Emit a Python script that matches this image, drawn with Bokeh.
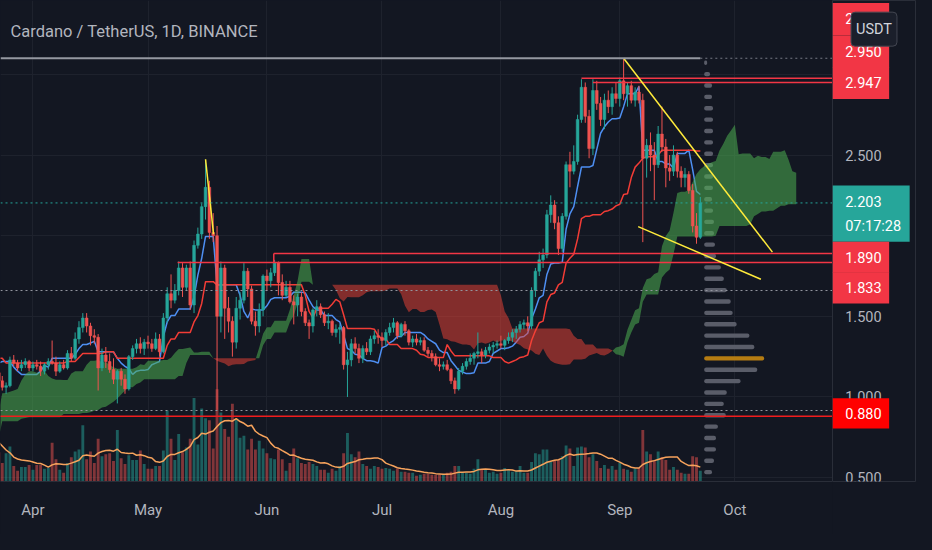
import numpy as np
import pandas as pd
from bokeh.plotting import figure
from bokeh.layouts import row
from bokeh.models import (Range1d, FixedTicker, MonthsTicker, DatetimeTickFormatter, Label,
                          ColumnDataSource, GlobalInlineStyleSheet)
from bokeh.core.properties import value
from bokeh.embed import file_html
from bokeh.resources import INLINE

# ---------------------------------------------------------------- data
TITLE = "Cardano / TetherUS, 1D, BINANCE"
FIRST_DAY = "2021-03-23"        # first daily candle shown
PRE_FIRST_DAY = "2021-01-04"    # earlier highs/lows, only used to seed the Ichimoku windows

OPEN = [
    1.15, 1.10, 1.06, 1.07, 1.23, 1.21, 1.18, 1.20, 1.22,
    1.18, 1.20, 1.19, 1.16, 1.20, 1.22, 1.21, 1.16, 1.20, 1.18, 1.27, 1.24, 1.36, 1.43, 1.49, 1.44, 1.38, 1.37, 1.18, 1.26,
    1.22, 1.17, 1.11, 1.16, 1.11, 1.05, 1.25, 1.30, 1.33, 1.30,
    1.34, 1.33, 1.30, 1.36, 1.28, 1.49, 1.64, 1.60, 1.66, 1.80, 1.68, 1.80, 1.57, 1.94, 2.01, 2.18, 2.30, 2.02, 2.00, 1.50,
    1.80, 1.55, 1.47, 1.34, 1.55, 1.60, 1.78, 1.67, 1.47, 1.44, 1.54,
    1.75, 1.72, 1.77, 1.83, 1.71, 1.63, 1.68, 1.59, 1.57, 1.62, 1.53, 1.46, 1.44, 1.54, 1.56, 1.51, 1.46, 1.47, 1.40, 1.42,
    1.43, 1.20, 1.23, 1.33, 1.30, 1.24, 1.30, 1.28, 1.36, 1.38,
    1.37, 1.35, 1.40, 1.43, 1.46, 1.38, 1.45, 1.41, 1.34, 1.36, 1.34, 1.35, 1.29, 1.27, 1.25, 1.20, 1.19, 1.20, 1.17, 1.10,
    1.05, 1.16, 1.19, 1.22, 1.24, 1.27, 1.28, 1.26, 1.29, 1.31, 1.32,
    1.33, 1.32, 1.35, 1.37, 1.40, 1.42, 1.45, 1.46, 1.44, 1.66, 1.78, 1.85, 1.88, 2.13, 2.19, 2.08, 1.92, 2.12, 2.44, 2.40,
    2.46, 2.72, 2.92, 2.74, 2.54, 2.90, 2.82, 2.72, 2.84, 2.80, 2.88,
    2.85, 2.96, 2.88, 2.93, 2.84, 2.89, 2.84, 2.48, 2.56, 2.50, 2.44, 2.63, 2.55, 2.42, 2.40, 2.50, 2.40, 2.36, 2.38, 2.28,
    2.06, 1.99,
]
HIGH = [
    1.17, 1.13, 1.09, 1.25, 1.26, 1.23, 1.23, 1.24, 1.23,
    1.22, 1.23, 1.22, 1.21, 1.24, 1.35, 1.25, 1.22, 1.23, 1.29, 1.31, 1.40, 1.47, 1.52, 1.52, 1.46, 1.42, 1.39, 1.30, 1.31,
    1.27, 1.24, 1.17, 1.18, 1.14, 1.26, 1.32, 1.36, 1.37, 1.36,
    1.38, 1.36, 1.40, 1.39, 1.52, 1.68, 1.76, 1.70, 1.84, 1.83, 1.82, 1.84, 1.97, 2.05, 2.20, 2.47, 2.34, 2.14, 2.06, 1.84,
    1.82, 1.62, 1.50, 1.62, 1.65, 1.83, 1.80, 1.69, 1.53, 1.58, 1.76,
    1.79, 1.80, 1.85, 1.84, 1.76, 1.72, 1.72, 1.63, 1.64, 1.65, 1.55, 1.48, 1.55, 1.60, 1.58, 1.53, 1.52, 1.48, 1.45, 1.45,
    1.44, 1.28, 1.36, 1.37, 1.33, 1.32, 1.34, 1.38, 1.41, 1.42,
    1.40, 1.42, 1.46, 1.49, 1.47, 1.46, 1.47, 1.42, 1.38, 1.39, 1.37, 1.37, 1.31, 1.29, 1.27, 1.24, 1.22, 1.23, 1.18, 1.12,
    1.18, 1.21, 1.24, 1.27, 1.28, 1.40, 1.30, 1.31, 1.33, 1.34, 1.35,
    1.38, 1.36, 1.40, 1.42, 1.44, 1.47, 1.48, 1.50, 1.68, 1.80, 1.90, 1.92, 2.16, 2.25, 2.22, 2.12, 2.14, 2.46, 2.52, 2.56,
    2.75, 2.97, 2.95, 2.78, 2.97, 2.96, 2.86, 2.88, 2.90, 2.92, 2.95,
    2.98, 3.10, 2.95, 2.96, 2.92, 2.93, 2.88, 2.60, 2.64, 2.58, 2.68, 2.80, 2.60, 2.50, 2.56, 2.52, 2.43, 2.42, 2.40, 2.32,
    2.14, 2.24,
]
LOW = [
    1.08, 1.04, 1.02, 1.06, 1.19, 1.16, 1.16, 1.18, 1.16,
    1.16, 1.17, 1.13, 1.14, 1.17, 1.20, 1.13, 1.15, 1.17, 1.17, 1.22, 1.23, 1.33, 1.40, 1.40, 1.32, 1.33, 1.04, 1.16, 1.18,
    1.15, 1.08, 0.96, 1.07, 1.02, 1.04, 1.23, 1.27, 1.27, 1.26,
    1.30, 1.28, 1.29, 1.25, 1.27, 1.46, 1.55, 1.58, 1.63, 1.62, 1.66, 1.54, 1.52, 1.92, 1.98, 2.10, 1.98, 1.96, 0.92, 1.40,
    1.36, 1.40, 1.25, 1.30, 1.48, 1.58, 1.62, 1.45, 1.38, 1.40, 1.50,
    1.66, 1.68, 1.75, 1.63, 1.60, 1.62, 1.58, 1.45, 1.50, 1.50, 1.44, 1.36, 1.40, 1.50, 1.49, 1.44, 1.42, 1.38, 1.37, 1.33,
    1.17, 1.00, 1.19, 1.27, 1.21, 1.21, 1.26, 1.26, 1.33, 1.33,
    1.31, 1.32, 1.38, 1.40, 1.36, 1.37, 1.38, 1.32, 1.31, 1.32, 1.32, 1.28, 1.25, 1.22, 1.19, 1.16, 1.17, 1.16, 1.08, 1.02,
    1.04, 1.14, 1.17, 1.20, 1.20, 1.24, 1.21, 1.24, 1.27, 1.27, 1.30,
    1.30, 1.29, 1.33, 1.34, 1.36, 1.40, 1.42, 1.41, 1.42, 1.62, 1.75, 1.80, 1.86, 2.08, 2.04, 1.88, 1.90, 2.10, 2.30, 2.38,
    2.44, 2.70, 2.70, 2.48, 2.50, 2.78, 2.68, 2.66, 2.76, 2.75, 2.82,
    2.80, 2.84, 2.80, 2.82, 2.80, 2.82, 1.96, 2.36, 2.40, 2.22, 2.42, 2.52, 2.30, 2.34, 2.37, 2.36, 2.30, 2.30, 2.26, 2.02,
    1.95, 1.98,
]
CLOSE = [
    1.10, 1.06, 1.07, 1.23, 1.21, 1.18, 1.20, 1.22, 1.18,
    1.20, 1.19, 1.16, 1.20, 1.22, 1.21, 1.16, 1.20, 1.18, 1.27, 1.24, 1.36, 1.43, 1.49, 1.44, 1.38, 1.37, 1.18, 1.26, 1.22,
    1.17, 1.11, 1.16, 1.11, 1.05, 1.25, 1.30, 1.33, 1.30, 1.34,
    1.33, 1.30, 1.36, 1.28, 1.49, 1.64, 1.60, 1.66, 1.80, 1.68, 1.80, 1.57, 1.94, 2.01, 2.18, 2.30, 2.02, 2.00, 1.50, 1.80,
    1.55, 1.47, 1.34, 1.55, 1.60, 1.78, 1.67, 1.47, 1.44, 1.54, 1.75,
    1.72, 1.77, 1.83, 1.71, 1.63, 1.68, 1.59, 1.57, 1.62, 1.53, 1.46, 1.44, 1.54, 1.56, 1.51, 1.46, 1.47, 1.40, 1.42, 1.43,
    1.20, 1.23, 1.33, 1.30, 1.24, 1.30, 1.28, 1.36, 1.38, 1.37,
    1.35, 1.40, 1.43, 1.46, 1.38, 1.45, 1.41, 1.34, 1.36, 1.34, 1.35, 1.29, 1.27, 1.25, 1.20, 1.19, 1.20, 1.17, 1.10, 1.05,
    1.16, 1.19, 1.22, 1.24, 1.27, 1.28, 1.26, 1.29, 1.31, 1.32, 1.33,
    1.32, 1.35, 1.37, 1.40, 1.42, 1.45, 1.46, 1.44, 1.66, 1.78, 1.85, 1.88, 2.13, 2.19, 2.08, 1.92, 2.12, 2.44, 2.40, 2.46,
    2.72, 2.92, 2.74, 2.54, 2.90, 2.82, 2.72, 2.84, 2.80, 2.88, 2.85,
    2.96, 2.88, 2.93, 2.84, 2.89, 2.84, 2.48, 2.56, 2.50, 2.44, 2.63, 2.55, 2.42, 2.40, 2.50, 2.40, 2.36, 2.38, 2.28, 2.06,
    1.99, 2.203,
]
VOLUME = [
    30, 19, 29, 36, 16, 11, 15, 15, 17,
    12, 17, 17, 13, 14, 40, 23, 12, 9, 19, 25, 31, 33, 58, 23, 31, 19, 44, 26, 28, 29, 21, 53, 24, 18, 27, 22, 22, 32, 18,
    13, 13, 16, 16, 32, 73, 44, 22, 49, 30, 35, 44, 86, 38, 75, 65, 63, 34, 95, 71, 54, 46, 80, 64, 45, 47, 33, 44, 33, 42, 34,
    29, 24, 23, 33, 23, 11, 19, 34, 24, 19, 18, 20, 18, 16, 12, 12, 9, 13, 11, 16, 29, 50, 28, 25, 31, 18, 16, 13, 16, 15,
    13, 14, 13, 11, 13, 10, 10, 9, 9, 6, 7, 8, 8, 7, 7, 7, 7, 9, 10, 16, 16, 9, 9, 8, 13, 23, 12, 12, 9, 10, 8,
    9, 14, 12, 10, 11, 16, 9, 9, 20, 29, 28, 33, 33, 20, 21, 22, 26, 37, 34, 16, 35, 36, 35, 25, 28, 21, 14, 17, 13, 16, 12,
    19, 13, 12, 10, 13, 14, 53, 31, 28, 22, 31, 25, 22, 12, 15, 12, 9, 8, 8, 26, 25, 11,
]
PRE_VOLUME = [60, 70, 65, 60, 30, 25, 20, 22, 24]   # Mar 14 - Mar 22, seeds the volume MA
VOL_MA_LEN = 10
PRE_HIGH = [
    0.24, 0.27, 0.33, 0.34, 0.33, 0.32, 0.33, 0.30, 0.30, 0.32, 0.36, 0.36, 0.38, 0.38, 0.38, 0.38, 0.36, 0.35, 0.34, 0.35,
    0.39, 0.39, 0.37, 0.37, 0.36, 0.36, 0.37, 0.39,
    0.42, 0.43, 0.46, 0.51, 0.52, 0.58, 0.64, 0.72, 0.72, 0.74, 0.75, 0.80, 0.95, 0.92, 0.87, 0.90, 0.91, 0.92, 0.96, 1.02,
    1.08, 1.08, 1.00, 1.07, 1.14, 1.25, 1.48, 1.39,
    1.40, 1.39, 1.26, 1.22, 1.16, 1.16, 1.20, 1.20, 1.17, 1.17, 1.14, 1.11, 1.11, 1.11, 1.09, 1.10, 1.36, 1.42, 1.35, 1.30,
    1.22, 1.23,
]
PRE_LOW = [
    0.19, 0.22, 0.25, 0.29, 0.27, 0.29, 0.28, 0.22, 0.25, 0.26, 0.30, 0.31, 0.34, 0.34, 0.34, 0.34, 0.31, 0.28, 0.27, 0.32,
    0.34, 0.34, 0.33, 0.31, 0.32, 0.32, 0.33, 0.35,
    0.36, 0.39, 0.40, 0.43, 0.46, 0.50, 0.55, 0.60, 0.64, 0.64, 0.68, 0.70, 0.76, 0.80, 0.78, 0.82, 0.83, 0.85, 0.87, 0.90,
    0.96, 0.84, 0.74, 0.90, 1.00, 1.05, 1.24, 1.17,
    1.28, 1.20, 1.15, 1.05, 1.04, 1.07, 1.08, 1.06, 1.08, 1.10, 1.05, 1.02, 1.01, 1.04, 1.00, 1.02, 1.04, 1.24, 1.22, 1.19,
    1.13, 1.10,
]
# visible-range volume profile, rows from top price to bottom price
VP_VOLUME = [3, 6, 8, 8, 9, 9, 9, 9, 9, 9, 9, 9, 8, 9, 10, 10, 11, 12, 17, 20,
             23, 27, 29, 33, 46, 51, 61, 54, 37, 23, 20, 22, 14, 12, 12, 10, 8, 6]
VP_TOP_PRICE, VP_BOTTOM_PRICE = 3.072, 0.464
VP_ANCHOR = "2021-09-23"

PRICE_TICKS = [0.5, 1.0, 1.5, 2.0, 2.5, 3.0]
ATH = 3.10
VA_HIGH, VA_LOW = 1.66, 0.916
COUNTDOWN = "07:17:28"
CURRENCY = "USDT"

# drawings
HLINE_PRICE = [2.976, 2.950, 1.890, 1.833, 0.880]
HLINE_FROM = ["2021-08-22", "2021-08-25", "2021-06-02 19:00", "2021-05-08 17:00", "2021-03-20"]
TREND_X0 = ["2021-05-16", "2021-09-02", "2021-09-05 19:00"]
TREND_Y0 = [2.474, 3.10, 2.056]
TREND_X1 = ["2021-05-18 02:00", "2021-10-10 19:00", "2021-10-07 19:00"]
TREND_Y1 = [2.01, 1.898, 1.73]

LABEL_TEXT = ["2.976", "2.950", "2.947", "1.890", "1.833", "0.880"]
LABEL_PRICE = [2.976, 2.950, 2.947, 1.890, 1.833, 0.880]

# ---------------------------------------------------------------- style / layout
BG = "#131722"
GRID = "#1e222d"
TXT = "#b2b5be"
UP, DOWN = "#26a69a", "#ef5350"
LBL_RED, LBL_RED2, LBL_TEAL = "#f23645", "#ff0000", "#26a69a"
FONT = "Roboto"
FS = "14.5px"
DAY = 86400000.0

W_MAIN, W_AXIS, H = 832, 84, 534
BOTTOM = 53
Y_TOP, Y_BOT = 3.458, 0.476
REF_FRAME_H = 495.0
PX = REF_FRAME_H / (Y_TOP - Y_BOT)          # reference pixels per price unit
AXW = 86.0                                  # reference width of the price column
LABEL_SHIFT_PX = [-61, -32, 0, 4, 26, -3]   # stacking offsets of the axis labels
LABEL_BOX_PX = [33, 33, 33, 32, 32, 31]
VOL_FRACTION = 95.0 / 495.0
VP_DAYS_PER_UNIT = 1 / 3.9


def ms(t):
    return pd.Timestamp(t).value / 1e6


def yref(px):
    return Y_TOP - px / PX


def xref(px):
    return px / AXW


n = min(len(OPEN), len(HIGH), len(LOW), len(CLOSE), len(VOLUME))
o, h, l, c = (np.array(a[:n], dtype=float) for a in (OPEN, HIGH, LOW, CLOSE))
v = np.array(VOLUME[:n], dtype=float)
dates = pd.date_range(FIRST_DAY, periods=n, freq="D")
x = np.array([ms(d) for d in dates])
X_START, X_END = ms("2021-03-23 13:00"), ms("2021-10-26 11:00")

# Ichimoku (9, 26, 52, displacement 26)
hi = pd.Series(PRE_HIGH + list(h))
lo = pd.Series(PRE_LOW + list(l))
all_x = np.array([ms(d) for d in pd.date_range(PRE_FIRST_DAY, periods=len(hi), freq="D")])


def mid(k):
    return ((hi.rolling(k).max() + lo.rolling(k).min()) / 2).values


conv, base = mid(9), mid(26)
span_a = (conv + base) / 2
span_b = mid(52)

vol_all = pd.Series(PRE_VOLUME + list(v))
vma = vol_all.rolling(VOL_MA_LEN, min_periods=1).mean().values[len(PRE_VOLUME):]

# ---------------------------------------------------------------- main figure
p = figure(width=W_MAIN, height=H, x_axis_type="datetime", x_range=Range1d(X_START, X_END),
           y_range=Range1d(Y_BOT, Y_TOP), y_axis_location=None, toolbar_location=None,
           output_backend="svg", min_border_left=0, min_border_right=0, min_border_top=0,
           min_border_bottom=BOTTOM, background_fill_color=BG, border_fill_color=BG,
           outline_line_color=None)
months = MonthsTicker(months=list(range(1, 13)))
p.xaxis.ticker = months
p.xaxis.formatter = DatetimeTickFormatter(months="%b", days="%b")
p.xaxis.axis_line_color = "#2a2e39"
p.xaxis.major_tick_line_color = None
p.xaxis.minor_tick_line_color = None
p.xaxis.major_tick_out = 0
p.xaxis.minor_tick_out = 0
p.xaxis.major_label_standoff = 19
p.xaxis.major_label_text_color = TXT
p.xaxis.major_label_text_font = FONT
p.xaxis.major_label_text_font_size = "15px"
p.xgrid.ticker = months
p.xgrid.grid_line_color = GRID
p.ygrid.ticker = FixedTicker(ticks=PRICE_TICKS)
p.ygrid.grid_line_color = GRID

up = c >= o
col = np.where(up, UP, DOWN)
src = ColumnDataSource(dict(x=x, o=o, h=h, l=l, c=c, top=np.maximum(o, c), bot=np.minimum(o, c),
                            col=col, vol=v, vma=vma))

# volume + its moving average
p.extra_y_ranges = {"vol": Range1d(0, v.max() / VOL_FRACTION)}
p.vbar(x="x", width=0.75 * DAY, top="vol", bottom=0, fill_color="col", fill_alpha=0.5,
       line_color=None, y_range_name="vol", source=src)
p.line(x="x", y="vma", y_range_name="vol", line_color="#f7a35c", line_width=1.5, source=src)

# volume profile
vp_y = np.linspace(VP_TOP_PRICE, VP_BOTTOM_PRICE, len(VP_VOLUME))
poc = int(np.argmax(VP_VOLUME))
anchor = ms(VP_ANCHOR)
vp_right = anchor + np.array(VP_VOLUME, dtype=float) * VP_DAYS_PER_UNIT * DAY
vp_col = ["#b57c12" if i == poc else "#5a5d69" for i in range(len(VP_VOLUME))]
p.hbar(y=vp_y, left=anchor, right=vp_right, height=4.5 / PX, fill_color=vp_col, line_color=None,
       border_radius=2)

# Ichimoku lines
ok = ~np.isnan(conv)
p.line(all_x[ok], conv[ok], line_color="#4e8ff2", line_width=1.5)
ok = ~np.isnan(base)
p.line(all_x[ok], base[ok], line_color="#f23c36", line_width=1.5)


def split_cloud(xs, a, b):
    ox, oa, ob = [xs[0]], [a[0]], [b[0]]
    for k in range(1, len(xs)):
        d0, d1 = a[k - 1] - b[k - 1], a[k] - b[k]
        if d0 * d1 < 0:
            t = d0 / (d0 - d1)
            xv = xs[k - 1] + t * (xs[k] - xs[k - 1])
            yv = a[k - 1] + t * (a[k] - a[k - 1])
            ox.append(xv); oa.append(yv); ob.append(yv)
        ox.append(xs[k]); oa.append(a[k]); ob.append(b[k])
    return np.array(ox), np.array(oa), np.array(ob)


ok = ~np.isnan(span_b)
cx, ca, cb = split_cloud(all_x[ok] + 25 * DAY, span_a[ok], span_b[ok])
p.varea(x=cx, y1=cb, y2=np.where(ca >= cb, ca, cb), fill_color="#4caf50", fill_alpha=0.55)
p.varea(x=cx, y1=ca, y2=np.where(cb > ca, cb, ca), fill_color="#f44336", fill_alpha=0.5)

# candles
p.segment(x0="x", y0="l", x1="x", y1="h", line_color="col", line_width=1, source=src)
p.vbar(x="x", width=0.72 * DAY, top="top", bottom="bot", fill_color="col", line_color="col",
       line_width=0.5, source=src)

# drawings
p.segment(x0=[ms(t) for t in HLINE_FROM], y0=HLINE_PRICE, x1=[X_END] * len(HLINE_PRICE), y1=HLINE_PRICE,
          line_color=[LBL_RED, LBL_RED, LBL_RED, LBL_RED, "#f21c1c"], line_width=1.5)
p.segment(x0=[ms(HLINE_FROM[2])], y0=[HLINE_PRICE[3]], x1=[ms(HLINE_FROM[2])], y1=[HLINE_PRICE[2]],
          line_color=LBL_RED, line_width=1.5)
p.segment(x0=[ms(t) for t in TREND_X0], y0=TREND_Y0, x1=[ms(t) for t in TREND_X1], y1=TREND_Y1,
          line_color="#ffeb3b", line_width=1.5)
p.segment(x0=[X_START], y0=[ATH], x1=[x[-1]], y1=[ATH], line_color="#9598a1", line_width=2)
p.segment(x0=[x[-1]], y0=[ATH], x1=[X_END], y1=[ATH], line_color="#787b86", line_width=1, line_dash="2 3")
p.segment(x0=[X_START] * 2, y0=[VA_HIGH, VA_LOW], x1=[X_END] * 2, y1=[VA_HIGH, VA_LOW],
          line_color="#9598a1", line_width=1, line_dash="2 3")
p.segment(x0=[X_START], y0=[c[-1]], x1=[X_END], y1=[c[-1]], line_color=UP, line_width=1, line_dash="2 3")

FRAME_H = H - BOTTOM
p.add_layout(Label(x=10, y=FRAME_H - 31, x_units="screen", y_units="screen", text=TITLE,
                   text_color=TXT, text_font=FONT, text_font_size="16.5px", text_baseline="middle"))

# ---------------------------------------------------------------- price column
p2 = figure(width=W_AXIS, height=H, x_range=Range1d(0, 1), y_range=p.y_range, x_axis_location=None,
            y_axis_location=None, toolbar_location=None, output_backend="svg", min_border_left=0,
            min_border_right=0, min_border_top=0, min_border_bottom=BOTTOM, background_fill_color=BG,
            border_fill_color=BG, outline_line_color="#2a2e39")
p2.xgrid.visible = False
p2.ygrid.visible = False

p2.text(x=[xref(13)] * len(PRICE_TICKS), y=PRICE_TICKS, text=[f"{t:.3f}" for t in PRICE_TICKS],
        text_font=value(FONT), text_font_size=FS, text_color=TXT, text_baseline="middle",
        text_align="left")

# last price box
last = float(c[-1])
tc = last - 11 / PX
p2.quad(left=0, right=xref(79), top=tc + 29 / PX, bottom=tc - 29 / PX, fill_color=LBL_TEAL, line_color=None)
p2.text(x=[xref(13)] * 2, y=[last + 1 / PX, last - 24 / PX], text=[f"{last:.3f}", COUNTDOWN],
        text_font=value(FONT), text_font_size=FS, text_color="#ffffff", text_baseline="middle",
        text_align="left")

# drawing labels
centers = [pr - s / PX for pr, s in zip(LABEL_PRICE, LABEL_SHIFT_PX)]
tops = [cc + b / 2 / PX for cc, b in zip(centers, LABEL_BOX_PX)]
bots = [cc - b / 2 / PX for cc, b in zip(centers, LABEL_BOX_PX)]
lcols = [LBL_RED] * 5 + [LBL_RED2]
p2.quad(left=0, right=xref(58), top=tops, bottom=bots, fill_color=lcols, line_color=None)
p2.text(x=[xref(13)] * len(centers), y=centers, text=LABEL_TEXT, text_font=value(FONT),
        text_font_size=FS, text_color="#ffffff", text_baseline="middle", text_align="left")

# currency button
p2.quad(left=xref(19), right=xref(66), top=yref(12), bottom=yref(47), fill_color="#1b1f2b",
        line_color="#434651", line_width=1, border_radius=4)
p2.text(x=[xref(42.5)], y=[yref(29.5)], text=[CURRENCY], text_font=value(FONT), text_font_size=FS,
        text_color="#d1d4dc", text_baseline="middle", text_align="center")

layout = row(p, p2)
layout.stylesheets = [GlobalInlineStyleSheet(css="html, body { background-color: #131722; }")]

open("out.html", "w").write(file_html(layout, INLINE))
